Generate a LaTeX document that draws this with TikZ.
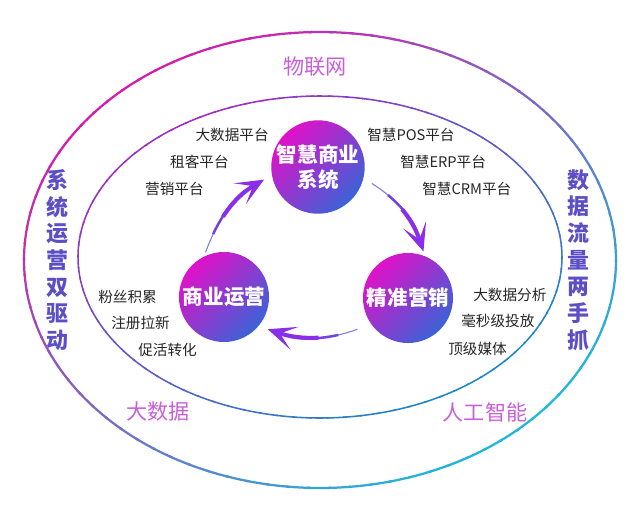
\documentclass[tikz,border=0pt]{standalone}
\usepackage{fontspec}
\setmainfont{Noto Sans CJK SC}
\usepackage{tikz}
\usetikzlibrary{positioning, arrows.meta}
\usepackage{xcolor}
\definecolor{magring}{HTML}{D81AAA}
\definecolor{cyanring}{HTML}{1FB8DA}
\definecolor{violetin}{HTML}{A02CC2}
\definecolor{bluein}{HTML}{1E88C8}
\definecolor{ballpink}{HTML}{E011C8}
\definecolor{ballblue}{HTML}{3A63D6}
\definecolor{flowviolet}{HTML}{8A2EEA}
\definecolor{flowtail}{HTML}{5A58D8}
\definecolor{layerpink}{HTML}{C85FD9}
\definecolor{sideblue}{HTML}{5C4FC6}

\begin{document}
\begin{tikzpicture}[
    x=0.025cm, y=-0.025cm,
    ball/.style={circle, minimum size=2.25cm, inner sep=0pt, top color=ballpink, bottom color=ballblue, shading angle=45, text=white, align=center, font=\fontsize{14.6}{18}\selectfont\bfseries},
    item/.style={inner sep=0pt, text=black!85, font=\fontsize{10.4}{12}\selectfont},
    layer/.style={text=layerpink, font=\fontsize{15}{18}\selectfont},
    side/.style={text=sideblue, align=center, font=\fontsize{15.6}{19}\selectfont\bfseries},
    tail/.style={line width=0.8pt, flowtail!75!white},
    body/.style={line width=1.8pt, flowtail!50!flowviolet, dash pattern=on 0pt off 5mm on 60mm},
    flow/.style={-{Stealth[length=7mm, width=6mm, inset=3.8mm]}, line width=2.9pt, flowviolet, dash pattern=on 0pt off 10mm on 60mm}
]

\fill[white] (0,0) rectangle (640,514);
\useasboundingbox (0,0) rectangle (640,514);

% Rings
\foreach \a in {0,4,...,356}{
    \pgfmathtruncatemacro\mix{50-35*(cos(\a)+sin(\a))}
    \draw[line width=1.6pt, line cap=round, magring!\mix!cyanring, domain=\a:\a+4.5, samples=4, variable=\t]
        plot ({320+296*cos(\t)}, {260+228*sin(\t)});
    \draw[line width=1.1pt, line cap=round, violetin!\mix!bluein, domain=\a:\a+4.5, samples=4, variable=\t]
        plot ({320+242*cos(\t)}, {257+161*sin(\t)});
}

% Core cycle
\node[ball] (smart) at (318,167) {智慧商业\\系统};
\node[ball] (bizop) at (224,297) {商业运营};
\node[ball] (market) at (408,298) {精准营销};

% Tapered flows: thin tail, wider body, full head
\foreach \src/\dst/\s/\e in {bizop.116/smart.190/1mm/2.2mm, smart.-14/market.68/2.4mm/1.2mm, market.215/bizop.-40/3.6mm/2.4mm}{
    \draw[tail, shorten <=\s, shorten >=\e+5mm] (\src) to[bend left=20] (\dst);
    \draw[body, shorten <=\s, shorten >=\e+5mm] (\src) to[bend left=20] (\dst);
    \draw[flow, shorten <=\s, shorten >=\e] (\src) to[bend left=20] (\dst);
}

% Platforms
\node[item, anchor=east] (bigplat) at (269,135) {大数据平台};
\node[item, anchor=east] (rent) at (229,162) {租客平台};
\node[item, anchor=east] (sales) at (204,189) {营销平台};
\node[item, anchor=west] (pos) at (367,135) {智慧POS平台};
\node[item, anchor=west] (erp) at (400,162) {智慧ERP平台};
\node[item, anchor=west] (crm) at (422,189) {智慧CRM平台};

% Operations
\node[item, anchor=west] (fans) at (98,297) {粉丝积累};
\node[item, anchor=west] (signup) at (111,323) {注册拉新};
\node[item, anchor=west] (active) at (138,350) {促活转化};

% Marketing
\node[item, anchor=west] (analysis) at (473,295) {大数据分析};
\node[item, anchor=west] (millis) at (461,321) {毫秒级投放};
\node[item, anchor=west] (media) at (448,349) {顶级媒体};

% Outer layer
\node[layer] (iot) at (315,67) {物联网};
\node[layer] (bigdata) at (158,412) {大数据};
\node[layer] (ai) at (485,412) {人工智能};

\node[side] (dualdrive) at (57,260) {系\\统\\运\\营\\双\\驱\\动};
\node[side] (twohands) at (578,260) {数\\据\\流\\量\\两\\手\\抓};

\end{tikzpicture}
\end{document}
